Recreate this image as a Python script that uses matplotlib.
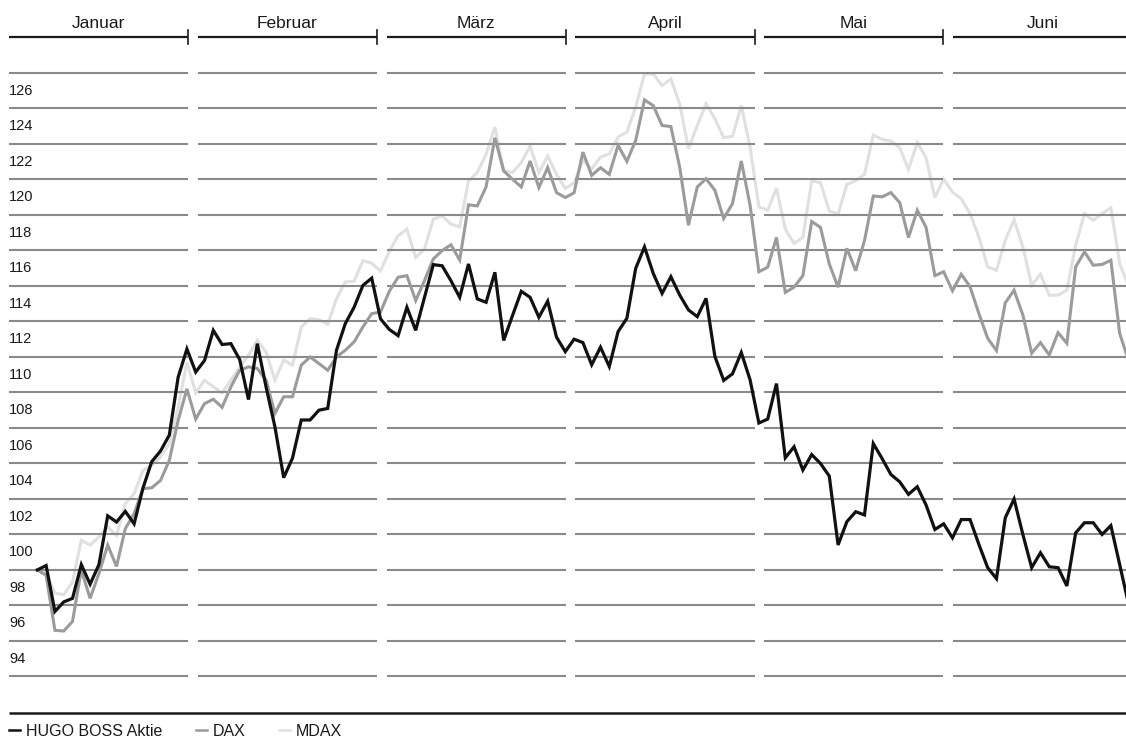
import matplotlib
matplotlib.use('Agg')
import matplotlib.pyplot as plt
import numpy as np

plt.rcParams['font.family'] = ['Liberation Sans', 'DejaVu Sans']

# Indexierte Kursentwicklung (Start = 100), je Handelstag Januar - Juni
hugo_boss = [100.0, 100.25, 97.66, 98.2, 98.4, 100.3, 99.2, 100.3, 103.05, 102.7,
             103.3, 102.6, 104.6, 106.1, 106.7, 107.6, 110.85, 112.45, 111.15, 111.8,
             113.5, 112.7, 112.75, 111.85, 109.6, 112.75, 110.3, 108.07, 105.2, 106.3,
             108.45, 108.45, 109.0, 109.1, 112.38, 113.88, 114.8, 116.03, 116.44, 114.15,
             113.55, 113.2, 114.8, 113.5, 115.36, 117.2, 117.14, 116.3, 115.36, 117.24,
             115.27, 115.08, 116.77, 112.93, 114.33, 115.7, 115.36, 114.24, 115.14, 113.12,
             112.3, 113.0, 112.81, 111.56, 112.55, 111.46, 113.43, 114.18, 116.99, 118.2,
             116.7, 115.58, 116.52, 115.49, 114.65, 114.27, 115.3, 112.03, 110.68, 111.05,
             112.25, 110.71, 108.28, 108.5, 110.5, 106.32, 106.94, 105.63, 106.5, 106.0,
             105.29, 101.41, 102.72, 103.28, 103.1, 107.12, 106.28, 105.38, 104.97, 104.26,
             104.69, 103.66, 102.28, 102.6, 101.81, 102.84, 102.84, 101.44, 100.13, 99.51,
             102.94, 104.0, 102.0, 100.13, 100.97, 100.18, 100.13, 99.1, 102.09, 102.66,
             102.66, 102.0, 102.5, 100.31, 98.1]

dax = [100.0, 99.7, 96.6, 96.56, 97.1, 100.0, 98.4, 99.8, 101.4, 100.2,
       102.33, 103.17, 104.58, 104.63, 105.04, 106.17, 108.42, 110.2, 108.5, 109.37,
       109.62, 109.16, 110.32, 111.25, 111.44, 111.35, 110.69, 108.82, 109.76, 109.76,
       111.54, 112.0, 111.63, 111.25, 112.0, 112.38, 112.85, 113.69, 114.44, 114.53,
       115.7, 116.49, 116.58, 115.18, 116.3, 117.52, 117.99, 118.32, 117.46, 120.57,
       120.51, 121.58, 124.35, 122.48, 122.01, 121.58, 123.04, 121.54, 122.67, 121.26,
       120.98, 121.25, 123.54, 122.23, 122.66, 122.29, 123.92, 123.02, 124.2, 126.48,
       126.16, 125.04, 124.98, 122.7, 119.42, 121.58, 122.04, 121.39, 119.8, 120.64,
       123.04, 120.55, 116.8, 117.06, 118.73, 115.64, 115.93, 116.58, 119.63, 119.3,
       117.24, 115.93, 118.12, 116.86, 118.55, 121.07, 121.02, 121.26, 120.7, 118.73,
       120.27, 119.3, 116.58, 116.8, 115.73, 116.66, 115.95, 114.45, 113.05, 112.36,
       115.05, 115.76, 114.36, 112.21, 112.81, 112.11, 113.37, 112.77, 117.07, 117.92,
       117.17, 117.21, 117.45, 113.33, 111.8]

mdax = [100.0, 99.8, 98.7, 98.6, 99.33, 101.67, 101.4, 101.86, 102.42, 101.95,
        103.73, 104.3, 105.6, 105.9, 106.36, 107.1, 109.17, 111.7, 109.98, 110.69,
        110.32, 109.98, 110.69, 111.44, 112.1, 112.94, 112.28, 110.69, 111.82, 111.54,
        113.69, 114.16, 114.1, 113.84, 115.28, 116.22, 116.27, 117.43, 117.28, 116.84,
        117.95, 118.83, 119.2, 117.61, 118.08, 119.76, 119.95, 119.48, 119.33, 121.92,
        122.39, 123.42, 124.95, 122.48, 122.39, 122.95, 123.88, 122.39, 123.32, 122.29,
        121.5, 121.8, 123.07, 122.6, 123.26, 123.44, 124.39, 124.67, 126.07, 127.94,
        127.94, 127.29, 127.66, 126.26, 123.73, 125.04, 126.26, 125.42, 124.35, 124.43,
        126.16, 123.82, 120.45, 120.27, 121.51, 119.2, 118.4, 118.73, 121.92, 121.82,
        120.23, 120.04, 121.73, 121.92, 122.29, 124.5, 124.26, 124.16, 123.79, 122.57,
        124.07, 123.23, 120.98, 122.02, 121.29, 120.91, 120.07, 118.76, 117.07, 116.88,
        118.57, 119.73, 118.2, 116.04, 116.66, 115.48, 115.48, 115.76, 118.29, 120.07,
        119.7, 120.07, 120.41, 117.26, 116.0]

months = ['Januar', 'Februar', 'März', 'April', 'Mai', 'Juni']
y_ticks = list(range(94, 129, 2))
y_labels = list(range(94, 127, 2))

fig = plt.figure(figsize=(11.26, 7.37), dpi=100)
ax = fig.add_axes([0, 0, 1, 1])
ax.axis('off')
ax.set_xlim(-4.24, 123.72)
ax.set_ylim(90.59, 132.11)

# Monatssegmente (in Handelstag-Einheiten)
period = 21.46
seg_w = 20.35
first = -3.22
starts = [first + period * k for k in range(len(months))]
ends = [s + seg_w for s in starts]

for s, e, name in zip(starts, ends, months):
    ax.hlines(y_ticks, s, e, color='#8a8a8a', lw=1.5, zorder=2)
    ax.plot([s, e], [130.03, 130.03], color='#1a1a1a', lw=1.6, solid_capstyle='butt', zorder=5)
    ax.plot([e, e], [129.63, 130.4], color='#1a1a1a', lw=1.2, zorder=5)
    ax.text((s + e) / 2, 130.78, name, ha='center', va='center', fontsize=12.5, color='#1a1a1a')

for v in y_labels:
    ax.text(-3.22, v + 1, str(v), ha='left', va='center', fontsize=10.5, color='#1a1a1a')

x = np.arange(len(hugo_boss))
l3, = ax.plot(x, mdax, color='#e0e0e0', lw=2.2, label='MDAX', zorder=1, solid_joinstyle='miter')
l2, = ax.plot(x, dax, color='#9b9b9b', lw=2.2, label='DAX', zorder=3, solid_joinstyle='miter')
l1, = ax.plot(x, hugo_boss, color='#111111', lw=2.3, label='HUGO BOSS Aktie', zorder=4, solid_joinstyle='miter')

# Abschlusslinie unten
ax.plot([-3.22, 123.72], [91.94, 91.94], color='#1a1a1a', lw=1.8, solid_capstyle='butt')

leg = ax.legend(handles=[l1, l2, l3], loc='center left', bbox_to_anchor=(0.008, 0.008),
                ncol=3, frameon=False, fontsize=11.5, handlelength=0.7, handletextpad=0.35,
                columnspacing=2.1, borderpad=0, borderaxespad=0)
for t in leg.get_texts():
    t.set_color('#1a1a1a')
for h in leg.get_lines():
    h.set_linewidth(1.8)

fig.savefig('out.png', dpi=100)
